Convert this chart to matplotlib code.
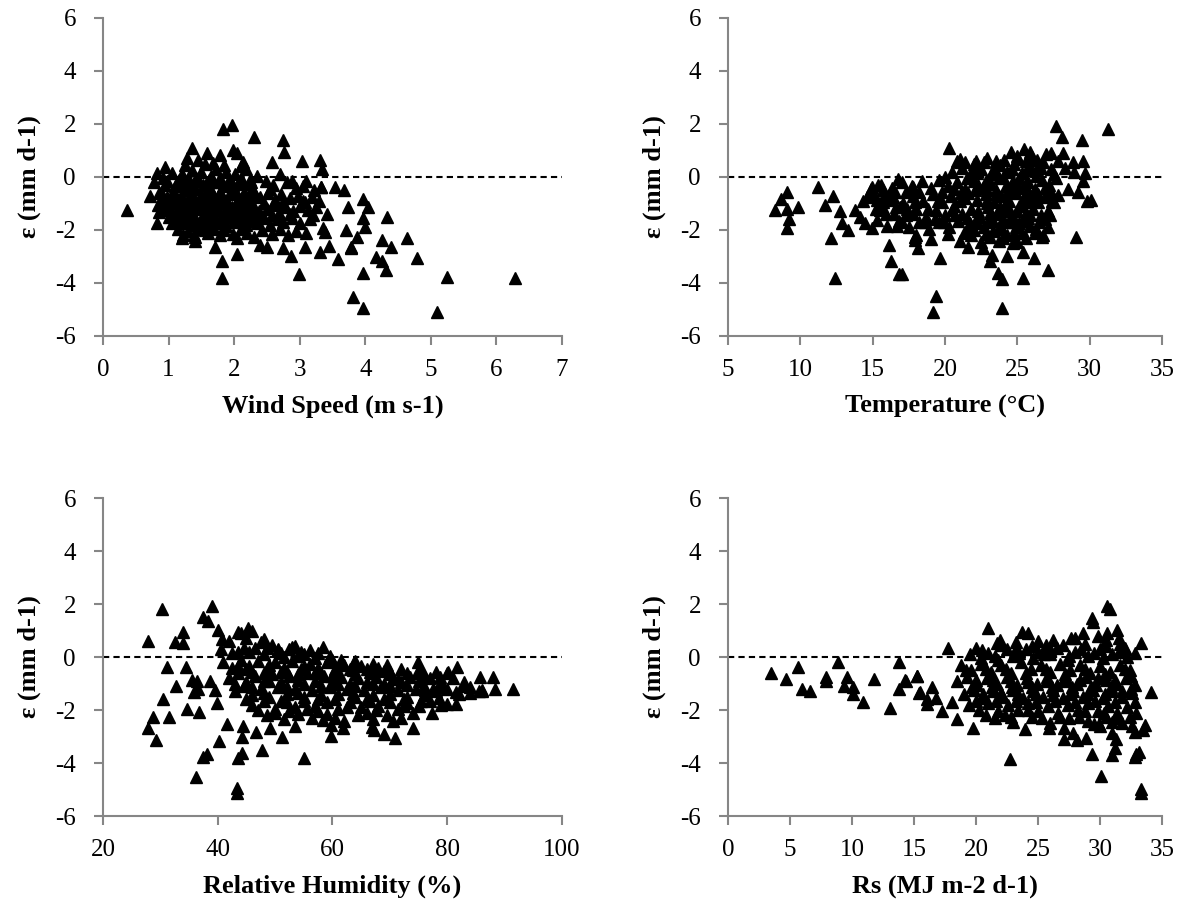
import numpy as np
import matplotlib
matplotlib.use('Agg')
import matplotlib.pyplot as plt

# --- wind speed panel (m s-1) vs error (mm d-1) ---
wind_x = [0.37, 1.83, 1.97, 2.30, 2.74, 2.76, 2.58, 3.04, 3.31, 3.34, 1.35, 1.28, 1.58, 1.45, 1.78, 1.99,
          2.04, 2.14, 1.68, 0.95, 0.83, 0.78, 0.71, 0.84, 0.86, 0.82, 1.21, 1.39, 1.40, 1.71, 1.82, 1.82,
          2.05, 2.39, 2.50, 2.75, 2.86, 2.99, 3.08, 3.31, 3.45, 3.59, 3.79, 3.87, 3.71, 3.97, 3.82, 3.96,
          3.54, 3.68, 3.97, 3.74, 4.04, 4.33, 3.41, 3.33, 3.36, 3.38, 3.97, 3.99, 3.05, 3.32, 4.64, 4.26,
          4.39, 3.78, 4.17, 4.25, 4.32, 4.79, 5.25, 6.29, 5.09,
          0.92, 1.05, 1.12, 1.20, 1.28, 1.35, 1.42, 1.50, 1.58, 1.65, 1.72, 1.80, 1.88, 1.95, 2.02, 2.10,
          2.18, 2.25, 2.35, 2.48, 2.60, 2.70, 2.80, 2.95, 3.10, 3.22,
          0.85, 0.98, 1.08, 1.18, 1.25, 1.33, 1.40, 1.48, 1.55, 1.63, 1.70, 1.78, 1.85, 1.93, 2.00, 2.08,
          2.15, 2.22, 2.30, 2.40, 2.52, 2.62, 2.72, 2.85, 2.98, 3.08, 3.18, 3.30,
          0.90, 1.02, 1.10, 1.17, 1.25, 1.32, 1.38, 1.45, 1.52, 1.60, 1.67, 1.75, 1.82, 1.90, 1.97, 2.05,
          2.12, 2.20, 2.28, 2.38, 2.50, 2.60, 2.68, 2.78, 2.90, 3.00, 3.12, 3.25,
          1.00, 1.12, 1.20, 1.28, 1.35, 1.42, 1.50, 1.58, 1.65, 1.72, 1.80, 1.88, 1.95, 2.02, 2.10, 2.18,
          2.26, 2.35, 2.45, 2.55, 2.65, 2.75, 2.88, 3.00, 3.15,
          1.15, 1.30, 1.48, 1.60, 1.70, 1.85, 1.98, 2.10, 2.20, 2.42, 2.58, 2.70, 2.82, 2.95, 3.10]
wind_e = [-1.25, 1.81, 1.96, 1.52, 1.40, 0.96, 0.55, 0.62, 0.63, 0.29, 1.08, 0.70, 0.92, 0.64, 0.83, 1.02,
          0.89, 0.58, 0.52, 0.37, 0.14, -0.18, -0.72, -1.06, -1.31, -1.75, -2.29, -2.19, -2.42, -2.63, -3.16, -3.82,
          -2.91, -2.57, -2.63, -2.69, -2.98, -3.66, -2.63, -2.82, -2.60, -3.09, -2.65, -2.25, -2.00, -3.63, -4.52, -4.96,
          -0.39, -0.49, -0.84, -1.12, -1.14, -1.50, -1.40, -0.38, -1.94, -2.07, -1.56, -1.88, -0.34, -0.37, -2.31, -2.38,
          -2.63, -2.67, -3.01, -3.16, -3.51, -3.07, -3.76, -3.82, -5.08,
          -0.05, 0.15, -0.30, 0.10, -0.15, 0.25, -0.05, 0.18, -0.20, 0.05, 0.30, -0.10, 0.20, -0.25, 0.12, -0.05,
          0.30, -0.20, 0.05, -0.15, -0.30, 0.10, -0.20, -0.40, -0.15, -0.50,
          -0.60, -0.75, -0.55, -0.80, -0.50, -0.70, -0.45, -0.85, -0.60, -0.40, -0.75, -0.55, -0.85, -0.60, -0.45, -0.80,
          -0.60, -0.90, -0.55, -0.75, -0.60, -0.85, -0.65, -0.80, -0.70, -0.95, -0.75, -0.90,
          -1.10, -1.25, -1.00, -1.30, -1.10, -1.35, -1.00, -1.20, -1.05, -1.30, -1.10, -1.25, -1.00, -1.30, -1.15, -1.35,
          -1.05, -1.25, -1.10, -1.30, -1.20, -1.05, -1.35, -1.15, -1.30, -1.10, -1.25, -1.15,
          -1.50, -1.65, -1.50, -1.75, -1.55, -1.80, -1.60, -1.85, -1.55, -1.75, -1.60, -1.85, -1.50, -1.70, -1.55, -1.80,
          -1.60, -1.75, -1.55, -1.80, -1.60, -1.70, -1.55, -1.75, -1.60,
          -1.95, -2.05, -1.95, -2.10, -1.95, -2.00, -2.15, -1.95, -2.10, -2.00, -2.15, -1.95, -2.20, -2.05, -2.10]
# extra points in the dense core
wind_core_x = [0.95, 1.10, 1.22, 1.37, 1.52, 1.68, 1.83, 1.98, 2.13, 2.28, 2.55, 2.88,
               1.00, 1.14, 1.30, 1.45, 1.60, 1.74, 1.90, 2.05, 2.20, 2.45, 2.75, 3.05,
               1.05, 1.22, 1.37, 1.55, 1.70, 1.85, 2.00, 2.16, 2.33, 2.58, 2.85, 3.20,
               1.25, 1.55, 1.85, 2.10,
               0.98, 1.16, 1.32, 1.46, 1.62, 1.76, 1.92, 2.07, 2.24,
               0.92, 1.05, 1.20, 1.36, 1.50, 1.66, 1.82, 1.96, 2.12, 2.26,
               0.96, 1.14, 1.28, 1.42, 1.57, 1.71, 1.86, 2.01, 2.16, 2.32,
               1.06, 1.25, 1.40, 1.54, 1.68, 1.84, 1.99, 2.14, 2.30,
               1.22, 1.40, 1.55, 1.78, 2.05, 2.30]
wind_core_e = [-0.30, -0.35, -0.25, -0.35, -0.30, -0.20, -0.35, -0.30, -0.25, -0.40, -0.45, -0.15,
               -0.90, -0.95, -0.90, -1.00, -0.95, -0.90, -1.00, -0.95, -0.90, -1.00, -0.95, -0.90,
               -1.40, -1.45, -1.40, -1.45, -1.40, -1.45, -1.40, -1.45, -1.40, -1.45, -1.40, -1.45,
               0.45, 0.50, 0.45, 0.40,
               -0.15, -0.10, -0.20, -0.15, -0.10, -0.20, -0.10, -0.20, -0.10,
               -0.70, -0.65, -0.70, -0.60, -0.70, -0.60, -0.70, -0.65, -0.75, -0.70,
               -1.20, -1.15, -1.20, -1.10, -1.20, -1.15, -1.20, -1.10, -1.20, -1.20,
               -1.75, -1.70, -1.65, -1.70, -1.65, -1.70, -1.65, -1.70, -1.65,
               -2.20, -2.25, -2.00, -2.20, -2.30, -2.25]

# --- temperature panel (deg C) ---
temp_x = [8.25, 8.64, 9.10, 9.10, 9.24, 9.10, 9.86, 11.24, 11.70, 12.28, 12.74, 12.86, 13.32, 12.12, 12.40,
          13.78, 14.12, 14.47, 14.93, 14.58, 14.93, 15.39, 15.73, 15.27, 15.50, 15.27, 16.19, 16.54, 16.77,
          16.15, 16.24, 16.84, 16.65, 16.88, 17.81, 17.81, 17.92,
          20.29, 21.03, 21.38, 22.12, 22.87, 24.56, 25.45, 25.87, 25.06, 26.33, 27.30, 27.64, 28.10, 29.44,
          31.24, 28.17, 28.86, 29.51, 29.67, 28.90, 29.51, 28.52, 29.21, 29.79, 30.06, 29.05, 27.14, 26.17,
          25.41, 25.41, 23.63, 23.91, 23.91, 19.35, 19.14, 17.00, 19.65, 18.15, 17.92, 21.61, 22.60, 23.22,
          23.10, 24.30, 24.70, 26.80, 27.14, 26.68, 27.25, 27.37, 27.83,
          20.5, 21.2, 21.8, 22.5, 23.2, 23.8, 24.3, 24.8, 25.3, 25.8, 26.3, 26.8, 27.3, 27.8, 28.3, 23.5,
          25.0, 26.0, 27.0, 22.0,
          14.9, 15.6, 16.3, 17.0, 17.7, 18.4, 19.0, 19.6, 20.2, 20.8, 21.4, 22.0, 22.6, 23.2, 23.7, 24.2,
          24.7, 25.2, 25.7, 26.2, 26.7, 27.2, 27.7,
          14.3, 15.0, 15.7, 16.4, 17.1, 17.8, 18.5, 19.2, 19.8, 20.4, 21.0, 21.6, 22.2, 22.8, 23.4, 23.9,
          24.4, 24.9, 25.4, 25.9, 26.4, 26.9, 27.5,
          15.2, 15.9, 16.6, 17.3, 18.0, 18.7, 19.4, 20.0, 20.6, 21.2, 21.8, 22.4, 23.0, 23.6, 24.1, 24.6,
          25.1, 25.6, 26.1, 26.6, 27.1,
          16.0, 16.8, 17.5, 18.2, 18.9, 19.6, 20.3, 20.9, 21.5, 22.1, 22.7, 23.3, 23.9, 24.4, 24.9, 25.4,
          25.9, 26.5,
          18.0, 19.0, 20.2, 21.0, 21.8, 22.5, 23.1, 23.7, 24.3, 25.0, 25.6, 26.2,
          22.3, 22.9, 23.5, 24.0, 24.5, 25.0, 25.5, 23.0, 24.8, 25.8]
temp_e = [-1.25, -0.84, -0.55, -1.22, -1.57, -1.94, -1.12, -0.39, -1.06, -0.72, -1.27, -1.75, -2.00, -2.31, -3.80,
          -1.25, -1.50, -1.75, -1.94, -0.75, -0.37, -0.30, -0.49, -0.88, -1.25, -1.63, -0.88, -0.55, -0.09,
          -2.57, -3.16, -3.67, -1.85, -1.12, -0.37, -1.38, -2.25,
          1.08, 0.68, 0.55, 0.62, 0.70, 0.93, 1.04, 0.93, 0.67, 0.64, 0.92, 1.94, 1.50, 1.40,
          1.82, 0.89, 0.58, 0.60, 0.14, 0.20, -0.14, -0.47, -0.55, -0.89, -0.86, -2.25, -3.51, -3.07,
          -2.84, -3.80, -3.64, -3.86, -4.96, -4.49, -5.08, -3.66, -3.07, -2.67, -2.38, -2.63, -2.69, -2.94,
          -3.16, -2.98, -2.50, -2.19, -1.90, -2.25, -1.43, -0.92, -0.67,
          0.20, 0.35, 0.05, 0.30, 0.10, 0.45, 0.20, 0.50, 0.15, 0.45, 0.25, 0.55, 0.30, 0.60, 0.35, 0.60,
          0.80, 0.75, 0.85, 0.50,
          -0.45, -0.30, -0.40, -0.20, -0.35, -0.15, -0.40, -0.10, -0.35, -0.20, -0.45, -0.15, -0.40, -0.25, -0.05, -0.35,
          -0.15, -0.40, -0.20, -0.45, -0.10, -0.30, -0.05,
          -0.90, -0.70, -0.95, -0.75, -1.00, -0.70, -0.90, -0.65, -0.95, -0.70, -0.90, -0.60, -0.85, -0.65, -0.95, -0.70,
          -0.90, -0.60, -0.85, -0.70, -0.95, -0.75, -0.95,
          -1.20, -1.40, -1.15, -1.45, -1.20, -1.50, -1.25, -1.45, -1.10, -1.40, -1.20, -1.50, -1.15, -1.40, -1.20, -1.45,
          -1.10, -1.35, -1.20, -1.45, -1.30,
          -1.85, -1.65, -1.90, -1.70, -1.95, -1.70, -1.90, -1.65, -1.95, -1.70, -1.90, -1.65, -1.95, -1.70, -1.90, -1.65,
          -1.85, -1.70,
          -2.20, -2.35, -2.15, -2.40, -2.20, -2.45, -2.25, -2.40, -2.20, -2.45, -2.30, -2.10,
          -0.30, -1.00, -0.50, -1.60, -0.50, -1.30, -0.30, -1.70, -2.10, -0.95]
temp_core_x = [20.8, 21.5, 22.2, 22.8, 23.4, 24.0, 24.6, 25.1, 25.7, 26.3,
               20.5, 21.1, 21.7, 22.3, 22.9, 23.3, 23.8, 24.3, 24.7, 25.3, 25.9, 26.4, 26.9, 27.3,
               21.3, 22.0, 22.8, 24.0, 25.3,
               15.5, 16.2, 17.4, 18.2, 18.8, 19.5, 17.0, 19.3,
               20.0, 21.0, 21.9, 22.7, 23.6, 24.1, 25.6, 26.6, 27.5,
               19.8, 20.6, 21.4, 22.1, 22.9, 23.6, 24.2, 24.9, 25.6, 26.2, 26.9,
               19.9, 20.7, 21.5, 22.3, 23.1, 23.8, 24.4, 25.1, 25.7, 26.3,
               16.5, 17.9, 18.6, 15.8, 17.3]
temp_core_e = [0.60, -0.05, 0.15, -0.15, 0.30, 0.00, 0.30, -0.05, 0.25, 0.05,
               -1.25, -0.60, -1.75, -1.30, -0.50, -2.05, -1.15, -0.55, -1.70, -1.05, -1.45, -0.65, -1.60, -0.55,
               -2.10, -2.00, -2.15, -2.30, -2.10,
               -1.05, -0.60, -1.20, -0.55, -1.20, -0.90, -1.70, -1.60,
               0.00, 0.55, 0.30, 0.55, 0.10, 0.65, 0.60, 0.35, 0.10,
               -0.55, -0.45, -0.80, -0.50, -0.85, -0.60, -1.00, -0.35, -0.60, -0.80, -0.40,
               -1.70, -1.45, -1.55, -1.75, -1.35, -1.80, -1.30, -1.75, -1.55, -1.95,
               -1.40, -0.95, -1.70, -0.70, -0.55]

# --- relative humidity panel (%) ---
rh_x = [27.9, 30.2, 39.0, 37.4, 38.35, 33.9, 32.5, 33.99, 31.1, 34.46, 32.7, 35.45, 36.4, 35.8, 36.5, 38.6,
        39.5, 30.5, 28.65, 31.5, 34.6, 36.8, 27.8, 29.2, 39.9, 41.65, 40.2, 37.4, 38.2, 36.2, 43.3, 43.3,
        43.6, 44.2, 44.45, 44.3, 46.65, 47.75, 49.1, 51.2, 55.0, 53.4, 43.6, 45.3, 48.1, 50.5, 52.97, 58.3,
        40.1, 40.7, 74.9, 81.7, 85.7, 88.3, 85.6, 84.0, 82.7, 81.6, 81.5, 79.9, 80.2, 78.7, 77.6, 76.1,
        74.7, 76.0, 77.3, 73.95, 70.9, 68.9, 66.9, 67.2, 59.8, 61.9, 59.7, 58.3, 71.4, 67.6, 68.9, 63.6,
        61.4, 88.0, 91.5, 86.0,
        40.5, 42.0, 43.5, 45.0, 46.5, 48.0, 49.5, 51.0, 52.5, 54.0, 56.0, 44.0, 46.0,
        41.0, 42.5, 44.0, 45.5, 47.0, 48.5, 50.0, 51.5, 53.0, 54.5, 56.0, 57.5, 59.0, 60.5, 62.0, 63.5,
        65.0, 66.5, 68.0, 70.0,
        42.0, 43.5, 45.0, 46.5, 48.0, 49.5, 51.0, 52.5, 54.0, 55.5, 57.0, 58.5, 60.0, 61.5, 63.0, 64.5,
        66.0, 67.5, 69.0, 70.5, 72.0, 73.5, 75.0, 77.0, 79.0, 81.0, 83.0,
        43.0, 44.5, 46.0, 47.5, 49.0, 50.5, 52.0, 53.5, 55.0, 56.5, 58.0, 59.5, 61.0, 62.5, 64.0, 65.5,
        67.0, 68.5, 70.0, 71.5, 73.0, 74.5, 76.0, 78.0, 80.0, 82.0, 84.0, 86.0,
        46.0, 48.0, 50.0, 52.0, 53.5, 55.0, 57.0, 59.0, 61.0, 63.0, 65.0, 66.5, 68.0, 70.0, 71.5, 73.0,
        75.0, 77.0, 79.0,
        48.5, 51.5, 54.0, 56.5, 59.0, 62.0, 64.5, 67.0, 69.5, 72.0]
rh_e = [0.60, 1.80, 1.94, 1.50, 1.37, 0.96, 0.58, 0.52, -0.39, -0.39, -1.09, -0.86, -0.89, -1.31, -1.22, -0.89,
        -1.25, -1.60, -2.25, -2.28, -1.96, -2.06, -2.69, -3.13, -1.75, -2.53, -3.16, -3.79, -3.66, -4.52, -4.96, -5.14,
        -3.82, -3.64, -2.60, -3.00, -2.82, -3.50, -2.69, -3.01, -3.82, -2.59, 0.96, 1.08, 0.67, 0.29, 0.36, 0.36,
        1.02, 0.67, -0.18, -0.36, -0.74, -1.22, -1.27, -1.37, -1.10, -1.31, -1.77, -1.77, -0.55, -0.77, -1.22, -1.25,
        -0.61, -0.72, -2.13, -2.67, -3.07, -2.92, -2.65, -2.77, -2.98, -2.69, -2.57, -2.38, -0.84, -0.49, -0.53, -0.27,
        -0.18, -0.75, -1.20, -1.25,
        0.30, 0.60, 0.20, 0.70, 0.35, 0.10, 0.45, 0.15, 0.30, 0.05, 0.25, 0.90, 1.00,
        -0.20, -0.40, -0.10, -0.35, -0.15, -0.45, -0.20, -0.40, -0.15, -0.45, -0.25, -0.40, -0.20, -0.45, -0.30, -0.50,
        -0.35, -0.55, -0.40, -0.55,
        -0.80, -0.60, -0.95, -0.70, -0.90, -0.65, -0.95, -0.70, -0.85, -0.60, -0.90, -0.70, -0.95, -0.75, -1.00, -0.80,
        -0.95, -0.75, -1.00, -0.80, -0.95, -0.75, -0.90, -0.80, -0.95, -0.80, -0.95,
        -1.30, -1.10, -1.45, -1.20, -1.50, -1.15, -1.40, -1.20, -1.50, -1.25, -1.45, -1.15, -1.40, -1.20, -1.50, -1.25,
        -1.45, -1.15, -1.40, -1.25, -1.50, -1.20, -1.45, -1.30, -1.20, -1.40, -1.15, -1.30,
        -1.80, -1.65, -1.95, -1.70, -1.90, -1.65, -1.85, -1.70, -1.95, -1.70, -1.90, -1.65, -1.85, -1.70, -1.95, -1.75,
        -1.85, -1.65, -1.80,
        -2.20, -2.35, -2.15, -2.30, -2.15, -2.40, -2.20, -2.35, -2.20, -2.30]
rh_core_x = [44.5, 47.5, 50.5, 53.5, 55.0, 57.0, 59.5, 61.5, 64.0, 67.0, 69.5, 72.0, 75.5, 78.0,
             43.5, 46.0, 49.0, 52.0, 55.0, 58.0, 61.0, 64.0, 67.0, 70.0, 73.0, 76.0, 80.0,
             45.0, 48.0, 51.0, 54.0, 57.5, 60.5, 63.5, 66.0, 69.0, 72.5, 75.5, 78.5,
             50.0, 57.5, 60.5, 66.0, 70.5, 74.0,
             42.5, 45.5, 48.5, 51.5, 54.5, 57.5, 60.0,
             43.0, 46.0, 49.0, 52.0, 55.0, 58.0, 61.0, 64.0, 67.0, 70.0, 73.0, 76.0, 79.0,
             47.0, 52.5, 55.5, 62.5, 67.5, 72.5,
             45.0, 48.0, 51.0, 54.0, 57.0, 60.0, 63.0, 66.0]
rh_core_e = [0.35, 0.55, 0.25, 0.40, 0.10, -0.05, 0.05, -0.10, -0.15, -0.25, -0.30, -0.45, -0.50, -0.55,
             -0.35, -0.55, -0.30, -0.55, -0.35, -0.60, -0.60, -0.65, -0.60, -0.65, -0.60, -0.65, -0.60,
             -1.60, -1.35, -1.65, -1.35, -1.60, -1.60, -1.35, -1.60, -1.60, -1.60, -1.65, -1.55,
             -2.10, -2.05, -2.30, -2.10, -2.40, -2.10,
             0.15, 0.20, 0.35, 0.00, 0.20, 0.15, -0.10,
             -1.00, -1.15, -0.90, -1.15, -1.00, -1.10, -1.00, -1.10, -1.00, -1.10, -1.05, -1.10, -1.15,
             -2.00, -2.05, -1.95, -1.90, -2.00, -1.85,
             -0.45, -0.60, -0.55, -0.65, -0.60, -0.70, -0.45, -0.45]

# --- solar radiation panel (MJ m-2 d-1) ---
rs_x = [3.44, 4.67, 5.67, 5.94, 6.61, 7.88, 7.88, 8.90, 9.62, 9.35, 10.1, 10.1, 10.86, 11.8, 13.06, 13.79,
        13.82, 14.36, 15.2, 15.4, 14.3, 15.27, 15.48, 16.42, 16.02, 16.77, 16.02, 17.23, 18.04, 17.77, 18.5,
        19.73, 20.99, 21.94, 21.67, 22.74, 23.68, 24.2, 23.23, 23.95, 25.9, 26.18, 25.6, 27.63, 28.6, 27.1,
        27.1, 28.1, 28.9, 27.85, 29.33, 29.41, 30.59, 30.8, 30.59, 31.4, 31.56, 30.5, 33.3, 34.09, 29.33,
        30.08, 30.98, 31.25, 31.2, 30.98, 32.9, 33.1, 32.8, 33.3, 33.3, 32.8, 33.6, 33.5, 29.95, 29.5, 31.98,
        19.5, 20.5, 21.5, 22.5, 23.5, 24.5, 25.5, 26.5, 27.5, 28.5, 29.5, 30.5, 31.5, 32.2, 25.0, 28.0, 29.8,
        18.8, 19.6, 20.4, 21.2, 22.0, 22.8, 23.6, 24.4, 25.2, 26.0, 26.8, 27.6, 28.4, 29.2, 30.0, 30.8,
        31.6, 32.4,
        18.5, 19.3, 20.1, 20.9, 21.7, 22.5, 23.3, 24.1, 24.9, 25.7, 26.5, 27.3, 28.1, 28.9, 29.7, 30.5,
        31.3, 32.1, 32.8,
        19.0, 19.8, 20.6, 21.4, 22.2, 23.0, 23.8, 24.6, 25.4, 26.2, 27.0, 27.8, 28.6, 29.4, 30.2, 31.0,
        31.8, 32.6,
        19.4, 20.2, 21.0, 21.8, 22.6, 23.4, 24.2, 25.0, 25.8, 26.6, 27.4, 28.2, 29.0, 29.8, 30.6, 31.4,
        32.2, 32.9,
        21.5, 23.0, 24.5, 26.0, 27.5, 29.0, 30.5, 31.8, 32.6]
rs_e = [-0.59, -0.84, -0.39, -1.22, -1.27, -0.77, -0.89, -0.18, -0.77, -1.10, -1.15, -1.40, -1.70, -0.83, -1.94, -0.18,
        -1.22, -0.89, -0.72, -1.35, -0.87, -0.72, -1.31, -1.12, -1.60, -1.56, -1.77, -2.03, -1.69, 0.33, -2.34,
        -2.69, 1.08, 0.63, 0.51, -3.85, 0.96, 0.89, 0.58, -2.73, -2.69, 0.64, 0.45, 0.70, 0.91, -2.69,
        -3.09, -3.13, -3.06, -2.88, 1.46, 1.34, 1.92, 1.80, 0.92, 1.02, 0.70, 0.64, 0.54, -1.31, -3.67,
        -4.49, -2.87, -3.09, -3.43, -3.69, -3.67, -3.59, -3.79, -4.99, -5.14, -2.82, -2.57, -2.76, -2.53, -2.53, 0.30,
        0.10, 0.25, 0.05, 0.30, 0.15, 0.40, 0.10, 0.35, 0.05, 0.30, 0.15, 0.40, 0.20, 0.00, 0.60, 0.70, 0.80,
        -0.30, -0.50, -0.25, -0.55, -0.30, -0.60, -0.20, -0.45, -0.30, -0.55, -0.25, -0.50, -0.30, -0.60, -0.35, -0.55,
        -0.30, -0.50,
        -0.90, -0.75, -1.05, -0.80, -1.00, -0.75, -1.05, -0.80, -1.00, -0.75, -1.05, -0.85, -1.00, -0.75, -1.05, -0.85,
        -1.00, -0.80, -1.05,
        -1.40, -1.25, -1.55, -1.30, -1.50, -1.25, -1.55, -1.30, -1.50, -1.25, -1.55, -1.30, -1.50, -1.25, -1.55, -1.30,
        -1.50, -1.35,
        -1.80, -2.00, -1.75, -2.05, -1.80, -2.00, -1.75, -2.05, -1.85, -2.10, -1.80, -2.00, -1.75, -2.05, -1.85, -2.10,
        -1.90, -2.10,
        -2.30, -2.45, -2.25, -2.50, -2.30, -2.40, -2.25, -2.50, -2.60]
rs_core_x = [20.0, 21.0, 22.0, 23.0, 24.0, 25.0, 26.0, 27.0, 28.0, 29.0, 30.0, 31.0, 32.0,
             19.2, 20.8, 22.4, 24.0, 25.6, 27.2, 28.8, 30.4, 32.0,
             19.7, 21.3, 22.9, 24.5, 26.1, 27.7, 29.3, 30.9, 32.5,
             20.0, 21.6, 23.2, 24.8, 26.4, 28.0, 29.6, 31.2, 32.8,
             22.3, 25.3, 28.3, 30.0, 31.0,
             20.4, 21.8, 23.2, 24.6, 26.0, 27.4, 28.8, 30.2, 31.6, 32.8,
             20.0, 21.4, 22.8, 24.2, 25.6, 27.0, 28.4, 29.8, 31.2, 32.5,
             20.6, 22.0, 23.4, 24.8, 26.2, 27.6, 29.0, 30.4, 31.8,
             20.8, 22.8, 24.2, 26.8, 28.8, 30.3, 31.5, 32.4]
rs_core_e = [0.35, 0.15, 0.45, 0.05, 0.30, 0.20, 0.10, 0.45, 0.20, 0.05, 0.30, 0.10, 0.35,
             -0.50, -0.45, -0.45, -0.60, -0.45, -0.65, -0.45, -0.65, -0.45,
             -1.15, -1.15, -1.15, -1.15, -1.15, -1.15, -1.15, -1.15, -1.20,
             -1.65, -1.65, -1.65, -1.70, -1.65, -1.70, -1.65, -1.70, -1.70,
             -2.20, -2.30, -2.25, -2.60, -2.45,
             -0.05, -0.10, 0.30, -0.05, 0.30, -0.10, 0.50, -0.05, 0.50, 0.15,
             -0.85, -0.85, -0.90, -0.95, -0.90, -0.90, -0.85, -0.80, -0.85, -0.70,
             -1.40, -1.35, -1.40, -1.40, -1.45, -1.40, -1.40, -1.40, -1.30,
             -2.20, -2.25, -2.00, -2.25, -2.05, -2.10, -2.30, -2.25]

panels = [
    (wind_x + wind_core_x, wind_e + wind_core_e, (0, 7), [0, 1, 2, 3, 4, 5, 6, 7], 'Wind Speed (m s-1)'),
    (temp_x + temp_core_x, temp_e + temp_core_e, (5, 35), [5, 10, 15, 20, 25, 30, 35], 'Temperature (°C)'),
    (rh_x + rh_core_x, rh_e + rh_core_e, (20, 100), [20, 40, 60, 80, 100], 'Relative Humidity (%)'),
    (rs_x + rs_core_x, rs_e + rs_core_e, (0, 35), [0, 5, 10, 15, 20, 25, 30, 35], 'Rs (MJ m-2 d-1)'),
]

plt.rcParams['font.family'] = ['Liberation Serif', 'DejaVu Serif']
plt.rcParams['axes.unicode_minus'] = False
fig = plt.figure(figsize=(11.99, 9.18), dpi=100)

# axes boxes (left, bottom, width, height) in figure fractions
boxes = [(0.0859, 0.634, 0.3828, 0.3464), (0.6072, 0.634, 0.362, 0.3464),
         (0.0859, 0.1111, 0.3828, 0.3464), (0.6072, 0.1111, 0.362, 0.3464)]

axis_grey = '#868686'
for (x, e, xlim, xticks, xlabel), box in zip(panels, boxes):
    ax = fig.add_axes(box)
    ax.plot(x, e, linestyle='none', marker='^', markersize=8.5, color='black')
    ax.axhline(0, color='black', linestyle=(0, (3, 2)), linewidth=1.5, zorder=0)
    ax.set_xlim(*xlim)
    ax.set_ylim(-6, 6)
    ax.set_xticks(xticks)
    ax.set_yticks([-6, -4, -2, 0, 2, 4, 6])
    ax.spines['top'].set_visible(False)
    ax.spines['right'].set_visible(False)
    for s in ['left', 'bottom']:
        ax.spines[s].set_color(axis_grey)
        ax.spines[s].set_linewidth(1.5)
    ax.tick_params(direction='out', length=6.5, width=1.5, color=axis_grey, labelsize=18)
    ax.tick_params(axis='x', pad=10)
    ax.tick_params(axis='y', pad=13)
    ax.set_xlabel(xlabel, fontsize=19, fontweight='bold', labelpad=10)
    ax.set_ylabel('ε (mm d-1)', fontsize=19, fontweight='bold', labelpad=10)

fig.savefig('out.png', dpi=100)
